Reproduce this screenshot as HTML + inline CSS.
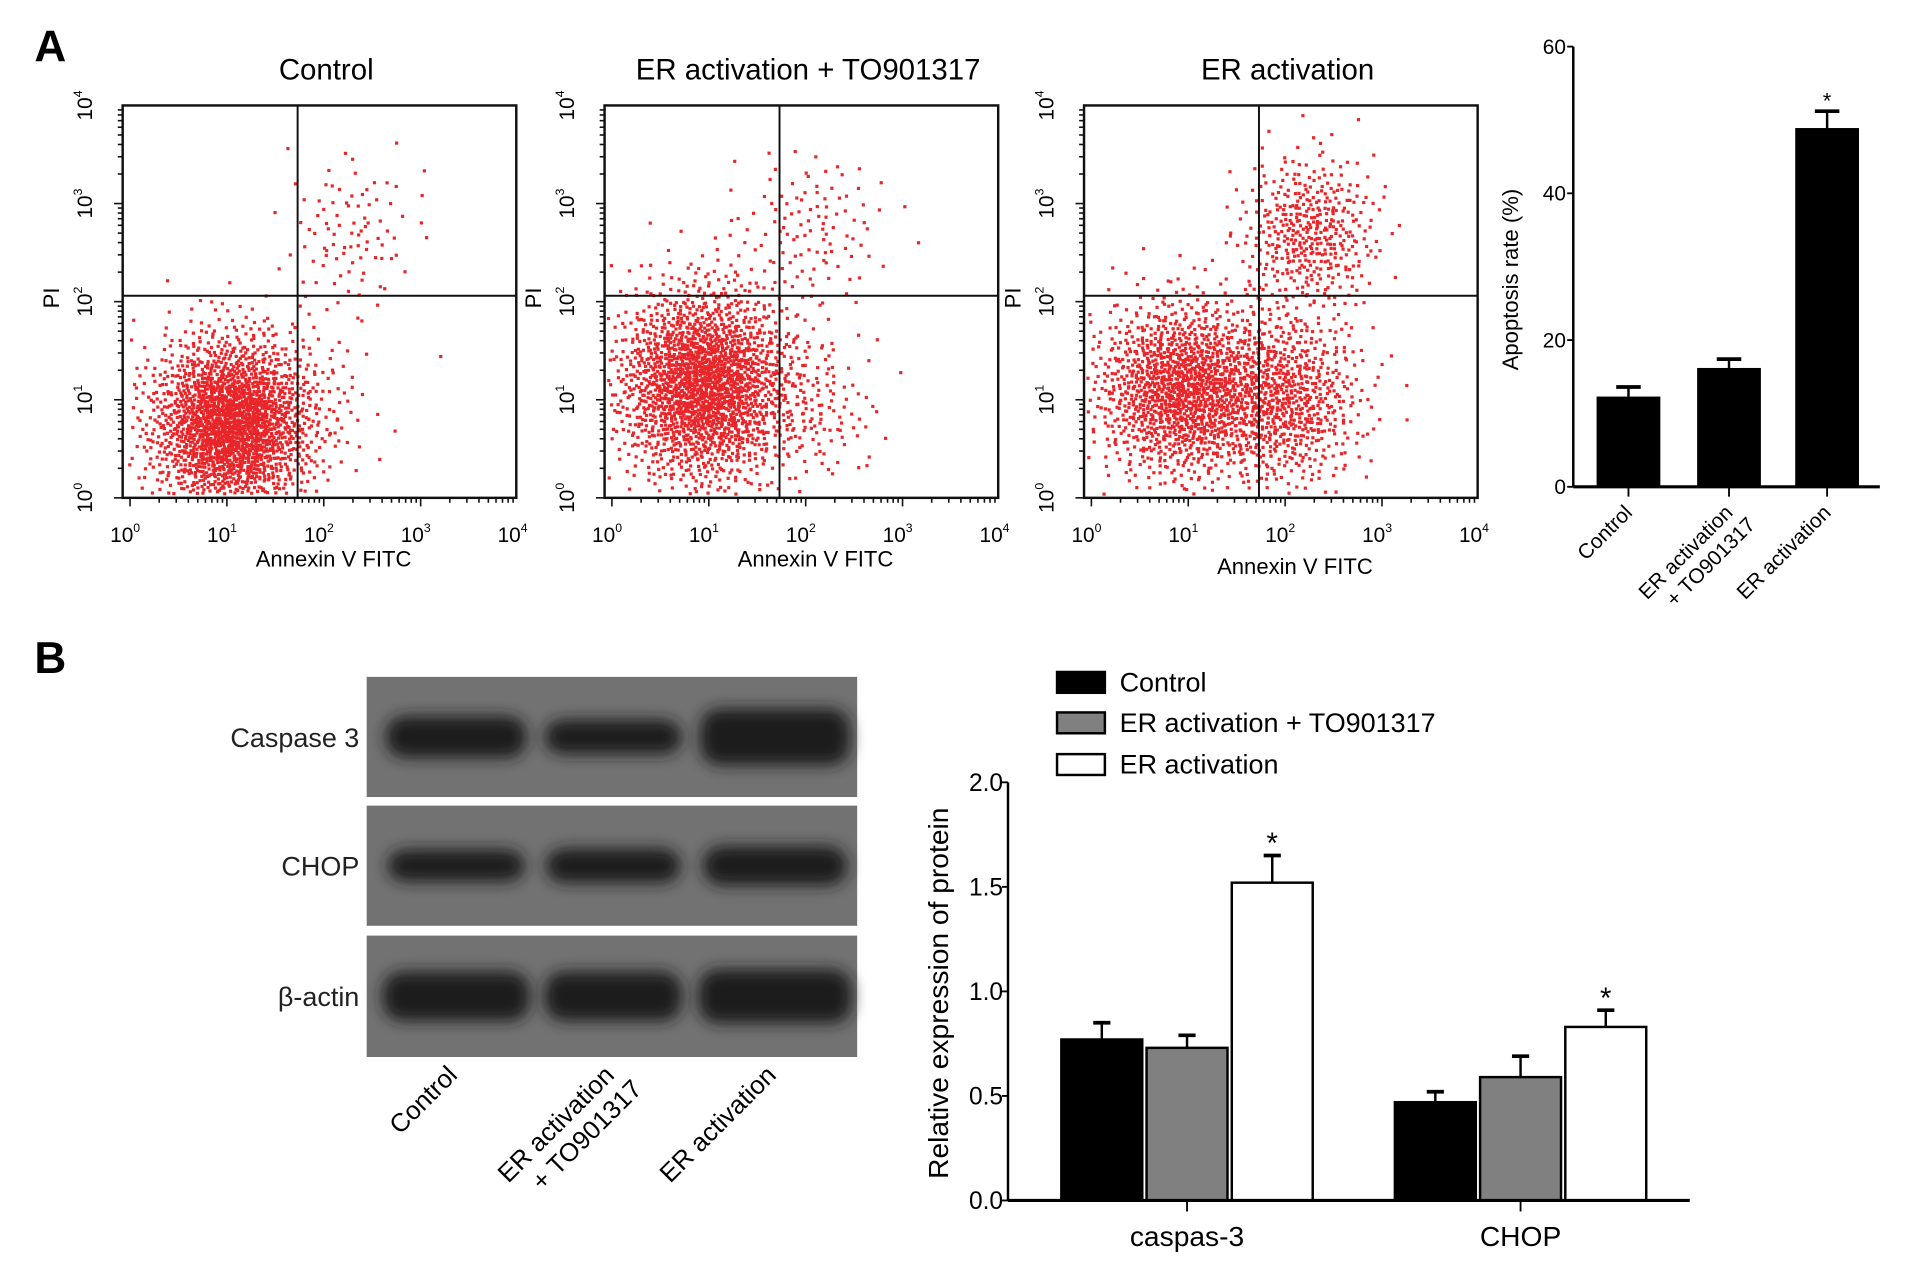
<!DOCTYPE html>
<html><head><meta charset="utf-8"><style>
html,body{margin:0;padding:0;background:#fff;}
svg{display:block;font-family:"Liberation Sans",Arial,sans-serif;}
</style></head><body>
<svg id="fig" width="1913" height="1276" viewBox="0 0 1560 1040.6" xmlns="http://www.w3.org/2000/svg">
<defs>
<filter id="blur" x="-20%" y="-50%" width="140%" height="200%"><feGaussianBlur stdDeviation="6"/></filter>
</defs>
<text x="28" y="50" font-size="36" font-weight="bold">A</text>
<text x="28" y="549" font-size="36" font-weight="bold">B</text>
<g id="scatters"></g>
<g id="barA"></g>
<g id="blot"></g>
<g id="barB"></g>
</svg>
<script>
// ---------- data ----------
// flow cytometry clusters: [log10 Annexin center, log10 PI center, sdX, sdY, count]
const scatterTitles = ["Control", "ER activation + TO901317", "ER activation"];
const clustersControl = [[1.05,0.75,0.42,0.45,2000],[2.3,2.7,0.35,0.4,90],[1.9,1.0,0.35,0.5,60]];
const clustersTO = [[0.95,1.15,0.45,0.5,2000],[2.05,2.75,0.4,0.4,110],[2.1,0.9,0.35,0.4,120]];
const clustersER = [[0.95,1.1,0.45,0.45,1400],[2.0,1.0,0.4,0.45,700],[2.25,2.7,0.35,0.4,420]];
const logTicks = ["0","1","2","3","4"];

const apopCats = ["Control", "ER activation\n+ TO901317", "ER activation"];
const apopVals = [12.3, 16.2, 48.9];
const apopErr = [1.3, 1.2, 2.3];
const apopStar = [false, false, true];
const apopTicks = [0, 20, 40, 60];

const protGroups = ["caspas-3", "CHOP"];
const protSeries = ["Control", "ER activation + TO901317", "ER activation"];
const protControl = [0.77, 0.47];
const protTO = [0.73, 0.59];
const protER = [1.52, 0.83];
const protErrControl = [0.08, 0.05];
const protErrTO = [0.06, 0.10];
const protErrER = [0.13, 0.08];
const protStarER = [true, true];
const protTicks = [0, 0.5, 1.0, 1.5, 2.0];

const blotRows = ["Caspase 3", "CHOP", "β-actin"];
const blotLanes = ["Control", "ER activation\n+ TO901317", "ER activation"];

const NS = "http://www.w3.org/2000/svg";
function mk(tag, attrs, parent, txt){
  const e = document.createElementNS(NS, tag);
  for (const k in attrs) e.setAttribute(k, attrs[k]);
  if (txt !== undefined) e.textContent = txt;
  parent.appendChild(e);
  return e;
}
function halton(i, b){ let f=1, r=0; while(i>0){ f/=b; r+=f*(i%b); i=Math.floor(i/b);} return r; }

// ---------- scatter plots ----------
const scat = document.getElementById('scatters');
const plotLefts = [100, 493, 884];
const allClusters = [clustersControl, clustersTO, clustersER];
const gateX = [1.73, 1.73, 1.73];
const gateY = 2.06;
plotLefts.forEach((L, p) => {
  const g = mk('g', {}, scat);
  
  
  const T = 86, B = 406, R = L + 321, x0 = L + 6, dx = 79;
  const sx = v => x0 + v * dx;
  const sy = v => B - v * 80;
  const t = mk('text', {x: L + 166, y: 65, 'font-size': 24, 'text-anchor': 'middle'}, g, scatterTitles[p]);
  
  
  let idx = 1 + p * 7919;
  allClusters[p].forEach(c => {
    for (let i = 0; i < c[4]; i++, idx++) {
      const u1 = Math.max(halton(idx, 2), 1e-6), u2 = halton(idx, 3);
      const r = Math.sqrt(-2 * Math.log(u1));
      let lx = c[0] + c[2] * r * Math.cos(2 * Math.PI * u2);
      let ly = c[1] + c[3] * r * Math.sin(2 * Math.PI * u2);
      const px = sx(lx), py = sy(ly);
      if (px < L + 3 || px > R - 3 || py < T + 3 || py > B - 3) continue;
      mk('rect', {x: px - 1.3, y: py - 1.3, width: 2.6, height: 2.6, fill: '#e8262a'}, g);
    }
  });
  mk('rect', {x: L, y: T, width: 321, height: 320, fill: 'none', stroke: '#111', 'stroke-width': 2}, g);
  mk('line', {x1: sx(gateX[p]), x2: sx(gateX[p]), y1: T, y2: B, stroke: '#111', 'stroke-width': 1.6}, g);
  mk('line', {x1: L, x2: R, y1: sy(gateY), y2: sy(gateY), stroke: '#111', 'stroke-width': 1.6}, g);
  for (let d = 0; d < 4; d++) for (let m = 1; m < 10; m++) {
    const v = d + Math.log10(m);
    const len = m === 1 ? 7 : 4;
    mk('line', {x1: sx(v), x2: sx(v), y1: B, y2: B + len, stroke: '#111', 'stroke-width': 1.3}, g);
    mk('line', {x1: L, x2: L - len, y1: sy(v), y2: sy(v), stroke: '#111', 'stroke-width': 1.3}, g);
  }
  logTicks.forEach((tk, i) => {
    const xt = mk('text', {x: sx(i) - 4, y: 442, 'font-size': 17, 'text-anchor': 'middle'}, g);
    mk('tspan', {}, xt, '10');
    mk('tspan', {'font-size': 10, dy: -8}, xt, tk);
    const yt = mk('text', {x: 0, y: 0, 'font-size': 17, 'text-anchor': 'middle', transform: `translate(${L - 25},${sy(i)}) rotate(-90)`}, g);
    mk('tspan', {}, yt, '10');
    mk('tspan', {'font-size': 10, dy: -8}, yt, tk);
  });
  const xl = mk('text', {x: L + 172, y: p === 2 ? 468 : 462, 'font-size': 18, 'text-anchor': 'middle'}, g, 'Annexin V FITC');
  
  
  const yl = mk('text', {x: 0, y: 0, 'font-size': 18, 'text-anchor': 'middle', transform: `translate(${L - 52},243) rotate(-90)`}, g, 'PI');
  
  
});

// ---------- bar chart A ----------
(function(){
  const g = document.getElementById('barA');
  
  
  const X0 = 1283, Y0 = 397, ppu = (397 - 38) / 60;
  const sy = v => Y0 - v * ppu;
  const centers = [1328, 1410, 1490], bw = 52;
  apopVals.forEach((v, i) => {
    const c = centers[i];
    mk('line', {x1: c, x2: c, y1: sy(v), y2: sy(v + apopErr[i]), stroke: '#000', 'stroke-width': 2}, g);
    mk('line', {x1: c - 10, x2: c + 10, y1: sy(v + apopErr[i]), y2: sy(v + apopErr[i]), stroke: '#000', 'stroke-width': 3}, g);
    const b = mk('rect', {x: c - bw/2, y: sy(v), width: bw, height: Y0 - sy(v), fill: '#000'}, g);
    
    
    if (apopStar[i]) mk('text', {x: c, y: sy(v + apopErr[i]) - 2, 'font-size': 18, 'text-anchor': 'middle'}, g, '*');
    mk('line', {x1: c, x2: c, y1: Y0, y2: Y0 + 8, stroke: '#000', 'stroke-width': 1.5}, g);
    const lines = apopCats[i].split('\n');
    const t = mk('text', {x: 0, y: 0, 'font-size': 17, 'text-anchor': 'end', transform: `translate(${c + 4},${Y0 + 22}) rotate(-45)`}, g);
    lines.forEach((ln, k) => mk('tspan', {x: 0, dy: k ? 20 : 0, dx: k ? 6 : 0}, t, ln));
  });
  mk('line', {x1: X0, x2: X0, y1: sy(60), y2: Y0, stroke: '#000', 'stroke-width': 2}, g);
  mk('line', {x1: X0, x2: 1533, y1: Y0, y2: Y0, stroke: '#000', 'stroke-width': 2.5}, g);
  apopTicks.forEach(t => {
    mk('line', {x1: X0 - 5, x2: X0, y1: sy(t), y2: sy(t), stroke: '#000', 'stroke-width': 1.5}, g);
    mk('text', {x: X0 - 6, y: sy(t) + 6, 'font-size': 17, 'text-anchor': 'end'}, g, String(t));
  });
  const yl = mk('text', {x: 0, y: 0, 'font-size': 18, 'text-anchor': 'middle', transform: 'translate(1238,228) rotate(-90)'}, g, 'Apoptosis rate (%)');
  
  
})();

// ---------- western blot ----------
(function(){
  const g = document.getElementById('blot');
  
  
  const rows = [[552, 98], [657, 98], [763, 99]];
  const lanes = [372, 500, 632];
  const bands = [[[115,34],[112,28],[122,46]], [[112,26],[110,28],[118,32]], [[120,40],[112,40],[125,44]]];
  rows.forEach((r, i) => {
    mk('rect', {x: 299, y: r[0], width: 400, height: r[1], fill: '#727272'}, g);
    lanes.forEach((lx, j) => {
      const b = bands[i][j];
      mk('rect', {x: lx - b[0]/2, y: r[0] + r[1]/2 - b[1]/2, width: b[0], height: b[1], rx: 16, fill: '#1a1a1a', filter: 'url(#blur)'}, g);
    });
    const t = mk('text', {x: 293, y: r[0] + r[1]/2 + 8, 'font-size': 22, 'text-anchor': 'end', fill: '#222'}, g, blotRows[i]);
    
    
  });
  blotLanes.forEach((nm, j) => {
    const t = mk('text', {x: 0, y: 0, 'font-size': 21, 'text-anchor': 'end', transform: `translate(${lanes[j] + 2},${878}) rotate(-45)`}, g);
    nm.split('\n').forEach((ln, k) => mk('tspan', {x: 0, dy: k ? 24 : 0, dx: k ? 8 : 0}, t, ln));
    
    
  });
})();

// ---------- bar chart B ----------
(function(){
  const g = document.getElementById('barB');
  
  
  const X0 = 822, Y0 = 979, ppu = (979 - 638) / 2;
  const sy = v => Y0 - v * ppu;
  const groupCenters = [968, 1240], bw = 66, gap = 69.5;
  const series = [protControl, protTO, protER];
  const errs = [protErrControl, protErrTO, protErrER];
  const fills = ['#000', '#808080', '#fff'];
  groupCenters.forEach((gc, gi) => {
    series.forEach((s, si) => {
      const c = gc + (si - 1) * gap;
      const v = s[gi], e = errs[si][gi];
      mk('line', {x1: c, x2: c, y1: sy(v), y2: sy(v + e), stroke: '#000', 'stroke-width': 2}, g);
      mk('line', {x1: c - 7, x2: c + 7, y1: sy(v + e), y2: sy(v + e), stroke: '#000', 'stroke-width': 3}, g);
      const b = mk('rect', {x: c - bw/2, y: sy(v), width: bw, height: Y0 - sy(v), fill: fills[si], stroke: '#000', 'stroke-width': 2}, g);
      
      
      if (si === 2 && protStarER[gi]) mk('text', {x: c, y: sy(v + e) - 2, 'font-size': 24, 'text-anchor': 'middle'}, g, '*');
    });
    mk('line', {x1: gc, x2: gc, y1: Y0, y2: Y0 + 9, stroke: '#000', 'stroke-width': 1.5}, g);
    mk('text', {x: gc, y: 1016, 'font-size': 23, 'text-anchor': 'middle'}, g, protGroups[gi]);
  });
  mk('line', {x1: X0, x2: X0, y1: sy(2), y2: Y0, stroke: '#000', 'stroke-width': 2}, g);
  mk('line', {x1: X0, x2: 1378, y1: Y0, y2: Y0, stroke: '#000', 'stroke-width': 2.5}, g);
  protTicks.forEach(t => {
    mk('line', {x1: X0 - 5, x2: X0, y1: sy(t), y2: sy(t), stroke: '#000', 'stroke-width': 1.5}, g);
    mk('text', {x: X0 - 4, y: sy(t) + 7, 'font-size': 20, 'text-anchor': 'end'}, g, t.toFixed(1));
  });
  const yl = mk('text', {x: 0, y: 0, 'font-size': 23, 'text-anchor': 'middle', transform: 'translate(773,810) rotate(-90)'}, g, 'Relative expression of protein');
  
  
  const ly = [548, 581, 615];
  protSeries.forEach((nm, i) => {
    const e = mk('g', {}, g);
    
    
    mk('rect', {x: 862, y: ly[i], width: 39, height: 17, fill: fills[i], stroke: '#000', 'stroke-width': 2}, e);
    mk('text', {x: 913, y: ly[i] + 16, 'font-size': 22}, e, nm);
  });
})();
</script>
</body></html>
